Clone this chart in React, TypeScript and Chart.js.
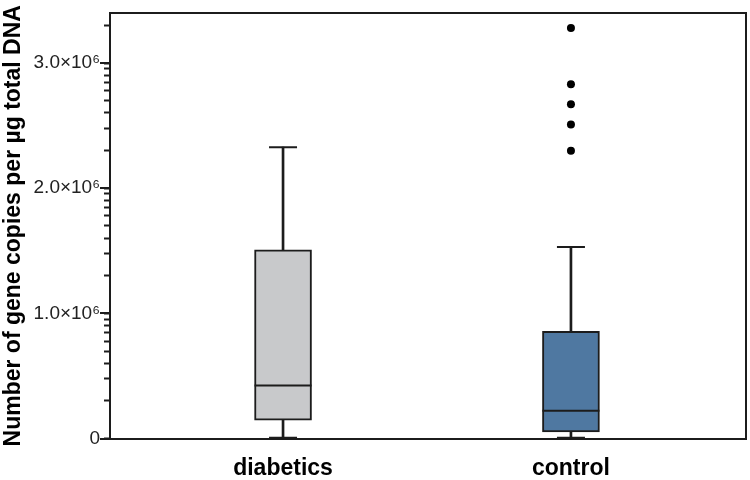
import React, { useEffect, useRef } from "react";
import { Chart, registerables } from "chart.js";

Chart.register(...registerables);

// ---- data (values in gene copies per µg total DNA) ----
const categories = ["diabetics", "control"];
const categoryPositions = [1, 2];
const whiskerLow = [6000, 5000];
const quartile1 = [146000, 53000];
const medians = [423000, 221000];
const quartile3 = [1508000, 856000];
const whiskerHigh = [2328000, 1530000];
const outliersControl = [3280000, 2830000, 2670000, 2510000, 2300000];
const majorTickValues = [0, 1000000, 2000000, 3000000];
const minorTickMultipliers = [2, 3, 4, 5, 6, 7, 8, 9];
const boxColors = ["#c8c9cb", "#4f78a1"];

const Y_MAX = 3400000;
const LINE = "#1c1c1c";
const FONT = "'Liberation Sans', Arial, Helvetica, sans-serif";

export default function App() {
  const ref = useRef<HTMLCanvasElement | null>(null);

  useEffect(() => {
    if (!ref.current) return;

    const boxData = categoryPositions.map((x, i) => ({ x, y: [quartile1[i], quartile3[i]] }));
    const upperWhisker = categoryPositions.map((x, i) => ({ x, y: [quartile3[i], whiskerHigh[i]] }));
    const lowerWhisker = categoryPositions.map((x, i) => ({ x, y: [whiskerLow[i], quartile1[i]] }));
    const caps = categoryPositions.flatMap((x, i) => [
      { x, y: whiskerHigh[i] },
      { x, y: whiskerLow[i] },
    ]);
    const medianPts = categoryPositions.map((x, i) => ({ x, y: medians[i] }));
    const outlierPts = outliersControl.map((y) => ({ x: categoryPositions[1], y }));

    const frame = {
      id: "frame",
      afterDraw(chart: any) {
        const { ctx, chartArea, scales } = chart;
        ctx.save();
        ctx.strokeStyle = LINE;
        ctx.lineWidth = 2;
        ctx.beginPath();
        ctx.moveTo(chartArea.left, chartArea.top);
        ctx.lineTo(chartArea.right, chartArea.top);
        ctx.lineTo(chartArea.right, chartArea.bottom);
        ctx.stroke();
        // longer major ticks
        const ys = scales.y;
        majorTickValues.forEach((v) => {
          const py = Math.round(ys.getPixelForValue(v));
          ctx.beginPath();
          ctx.moveTo(chartArea.left - 10, py);
          ctx.lineTo(chartArea.left, py);
          ctx.stroke();
        });
        ctx.restore();
      },
    };

    const chart = new Chart(ref.current, {
      type: "bar",
      data: {
        datasets: [
          {
            type: "scatter",
            data: medianPts,
            pointStyle: "line",
            pointRadius: 28.5,
            borderColor: LINE,
            backgroundColor: LINE,
            borderWidth: 2,
            order: 0,
          } as any,
          {
            type: "scatter",
            data: outlierPts,
            pointStyle: "circle",
            pointRadius: 4,
            borderColor: "#000",
            backgroundColor: "#000",
            borderWidth: 0,
            order: 0,
          } as any,
          {
            type: "bar",
            data: boxData,
            backgroundColor: boxColors,
            borderColor: LINE,
            borderWidth: 2,
            borderSkipped: false,
            barThickness: 57,
            grouped: false,
            order: 1,
          } as any,
          {
            type: "bar",
            data: upperWhisker,
            backgroundColor: LINE,
            borderWidth: 0,
            barThickness: 2,
            grouped: false,
            order: 2,
          } as any,
          {
            type: "bar",
            data: lowerWhisker,
            backgroundColor: LINE,
            borderWidth: 0,
            barThickness: 2,
            grouped: false,
            order: 2,
          } as any,
          {
            type: "scatter",
            data: caps,
            pointStyle: "line",
            pointRadius: 14,
            borderColor: LINE,
            borderWidth: 2,
            order: 2,
          } as any,
        ],
      },
      options: {
        responsive: false,
        animation: false,
        devicePixelRatio: 1,
        layout: { autoPadding: false, padding: { top: 13, right: 4, left: 0, bottom: 0 } },
        plugins: { legend: { display: false }, tooltip: { enabled: false } },
        scales: {
          x: {
            type: "linear",
            min: 0.399,
            max: 2.608,
            offset: false,
            grid: { display: false, offset: false },
            border: { display: true, color: LINE, width: 2 },
            afterBuildTicks: (scale: any) => {
              scale.ticks = categoryPositions.map((v) => ({ value: v }));
            },
            afterFit: (scale: any) => {
              scale.height = 41.5;
              scale.paddingLeft = 0;
              scale.paddingRight = 0;
            },
            ticks: {
              padding: 8,
              color: "#000",
              font: { family: FONT, size: 23, weight: "bold" },
              callback: (v: any) => {
                const i = categoryPositions.indexOf(Number(v));
                return i >= 0 ? categories[i] : "";
              },
            },
          },
          y: {
            type: "linear",
            min: 0,
            max: Y_MAX,
            border: { display: true, color: LINE, width: 2 },
            grid: {
              drawOnChartArea: false,
              drawTicks: true,
              tickLength: 6,
              tickColor: LINE,
              tickWidth: 2,
            },
            afterBuildTicks: (scale: any) => {
              const t: any[] = [];
              majorTickValues.forEach((m) => {
                t.push({ value: m, major: true });
                minorTickMultipliers.forEach((k) => {
                  const v = m + Math.log10(k) * 1000000;
                  if (v <= Y_MAX) t.push({ value: v });
                });
              });
              t.sort((a, b) => a.value - b.value);
              scale.ticks = t;
            },
            afterFit: (scale: any) => {
              scale.width = 110;
              scale.paddingTop = 0;
              scale.paddingBottom = 0;
            },
            ticks: {
              padding: 4,
              autoSkip: false,
              color: "#222",
              font: { family: FONT, size: 19 },
              callback: (v: any) => {
                const n = Number(v);
                if (!majorTickValues.includes(n)) return "";
                if (n === 0) return "0";
                return (n / 1000000).toFixed(1) + "×10⁶";
              },
            },
            title: {
              display: true,
              text: "Number of gene copies per µg total DNA",
              color: "#000",
              padding: 0,
              font: { family: FONT, size: 23, weight: "bold" },
            },
          },
        },
      },
      plugins: [frame],
    });

    return () => chart.destroy();
  }, []);

  return (
    <div style={{ position: "absolute", left: 0, top: 0, width: 750, height: 480, background: "#fff" }}>
      <canvas ref={ref} width={750} height={480} style={{ display: "block" }} />
    </div>
  );
}
